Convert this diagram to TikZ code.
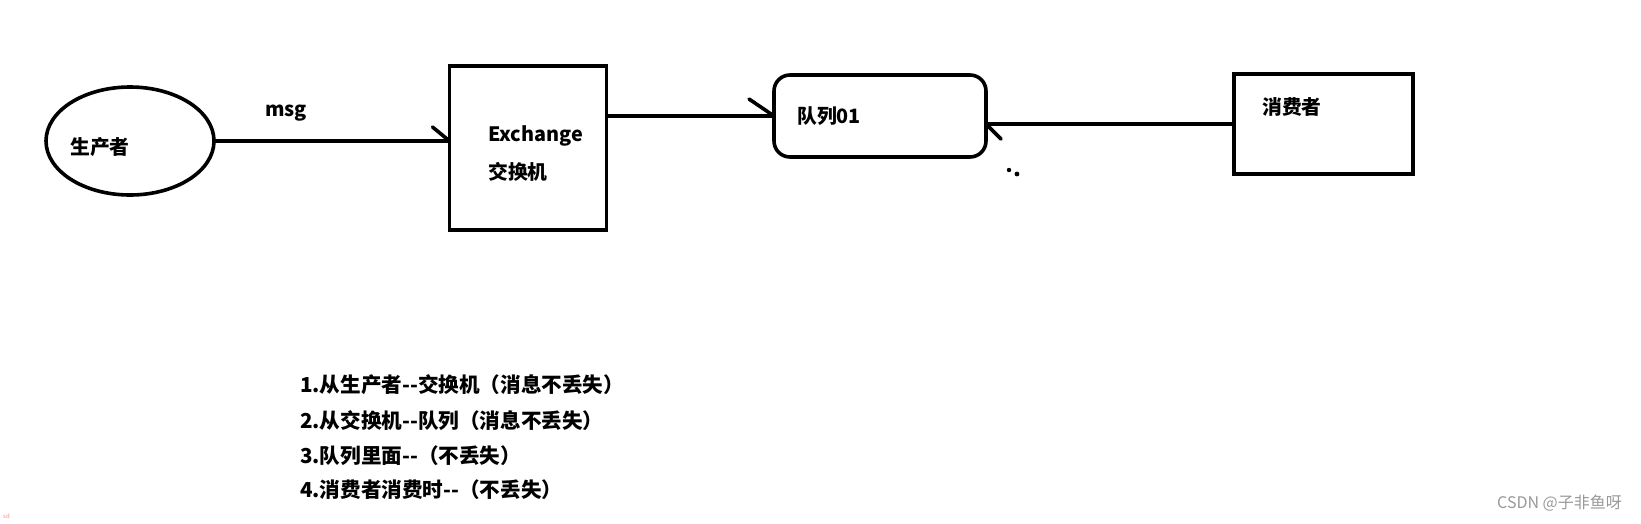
\documentclass[tikz,border=0pt]{standalone}
\usepackage{fontspec}
\setmainfont{Noto Sans CJK SC}
\usetikzlibrary{shapes.geometric}
\begin{document}
\begin{tikzpicture}[x=1pt,y=-1pt,
  shapebox/.style={draw=black,line width=3.6pt,inner sep=0pt,outer sep=0pt},
  conn/.style={draw=black,line width=3.6pt},
  lbl/.style={anchor=west,inner sep=0pt,font=\fontsize{19.8}{22}\selectfont\bfseries},
  listtxt/.style={anchor=west,inner sep=0pt,font=\fontsize{20.6}{23}\selectfont\bfseries}]
\useasboundingbox (0,0) rectangle (1641,523);
\fill[white] (0,0) rectangle (1641,523);
% shapes
\node[shapebox,ellipse,minimum width=168pt,minimum height=108pt] (producer) at (130,141) {};
\node[shapebox,rectangle,minimum width=157pt,minimum height=164pt] (exchange) at (528,148) {};
\node[shapebox,rectangle,rounded corners=16pt,minimum width=212pt,minimum height=82pt] (queue) at (880,116) {};
\node[shapebox,rectangle,minimum width=179pt,minimum height=100pt] (consumer) at (1323.5,124) {};
% texts
\node[lbl] (tprod) at (70,147) {生产者};
\node[lbl] (tmsg) at (265,113) {msg};
\node[lbl] (tex1) at (488,136) {Exchange};
\node[lbl] (tex2) at (488,172) {交换机};
\node[lbl] (tq) at (797,116) {队列01};
\node[lbl] (tc) at (1262,107) {消费者};
% connectors
\coordinate (a1) at (producer.east -| exchange.west);
\draw[conn] (producer.east) -- (a1);
\draw[conn,line cap=round] (a1) -- ++(-17,-14);
\coordinate (a2) at (queue.west -| exchange.east);
\draw[conn] (a2) -- (queue.west);
\draw[conn,line cap=round] (queue.west) -- ++(-25,-17);
\coordinate (a3) at (consumer.west -| queue.east);
\draw[conn] (consumer.west) -- (a3);
\draw[conn,line cap=round] (a3) -- ++(15,15);
% stray dots
\fill (1009,170) circle (2.2pt);
\fill (1017,174) circle (2.4pt);
% list
\node[listtxt] (l1) at (300,385) {1.从生产者-{}-交换机（消息不丢失）};
\node[listtxt] (l2) at (300,421) {2.从交换机-{}-队列（消息不丢失）};
\node[listtxt] (l3) at (300,456) {3.队列里面-{}-（不丢失）};
\node[listtxt] (l4) at (300,490) {4.消费者消费时-{}-（不丢失）};
% watermark
\node[anchor=east,inner sep=0pt,text=black!40,font=\fontsize{16}{18}\selectfont] (wm) at (1622,503) {CSDN @子非鱼呀};
\node[anchor=west,inner sep=0pt,text=red!45,font=\fontsize{6}{7}\selectfont] (sd) at (3,516) {sd};
\end{tikzpicture}
\end{document}
